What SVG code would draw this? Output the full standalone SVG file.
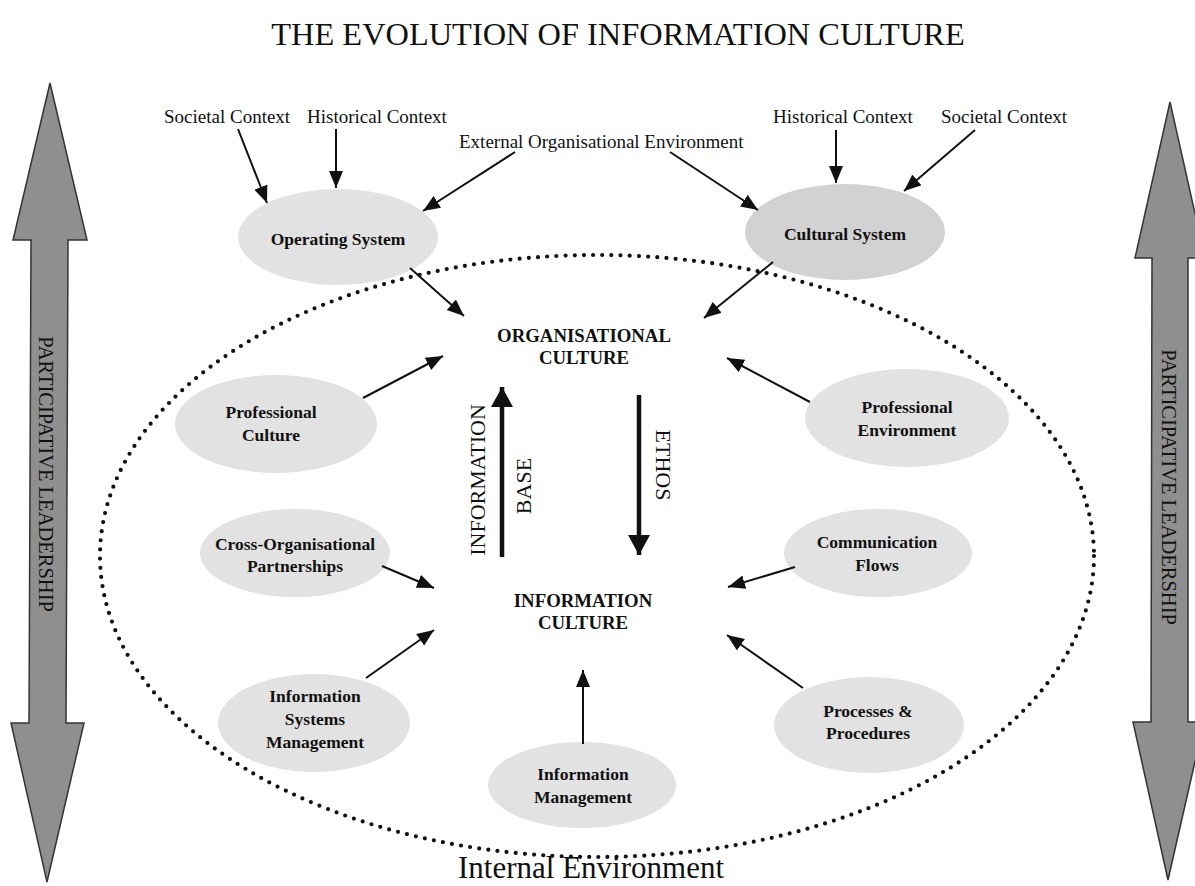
<svg xmlns="http://www.w3.org/2000/svg" width="1195" height="886" viewBox="0 0 1195 886">
<style>
.t{font-family:"Liberation Serif","Times New Roman",serif;fill:#111}
.lbl{font-size:19px}
.node{font-size:17.5px;font-weight:bold;text-anchor:middle}
.cap{font-size:18.8px;font-weight:bold;text-anchor:middle}
.ell{fill:#e2e2e2}
.conn{stroke:#111;stroke-width:2;fill:none;marker-end:url(#ah)}
.big{fill:#8f8f8f;stroke:#333;stroke-width:1.5}
</style>
<defs>
<marker id="ah" markerUnits="userSpaceOnUse" markerWidth="20" markerHeight="16" refX="17" refY="7" orient="auto">
<path d="M0,0 L17,7 L0,14 Z" fill="#111"/>
</marker>
<marker id="ahb" markerUnits="userSpaceOnUse" markerWidth="24" markerHeight="24" refX="20" refY="11" orient="auto">
<path d="M0,0 L20,11 L0,22 Z" fill="#111"/>
</marker>
</defs>
<rect width="1195" height="886" fill="#fff"/>
<text class="t" x="618" y="45" font-size="32.4" text-anchor="middle">THE EVOLUTION OF INFORMATION CULTURE</text>

<g id="leadership-left">
<path class="big" d="M50,83 L87,240 L68,240 L66,723 L84,723 L47,882 L11,723 L29,723 L31,240 L13,240 Z"/>
<text class="t" x="0" y="0" font-size="20.5" text-anchor="middle" transform="translate(39,474) rotate(90)">PARTICIPATIVE LEADERSHIP</text>
</g>
<g id="leadership-right">
<path class="big" d="M1170,102 L1205,258 L1188,258 L1188,722 L1204,722 L1168,880 L1133,722 L1151,722 L1152,258 L1135,258 Z"/>
<text class="t" x="0" y="0" font-size="20.5" text-anchor="middle" transform="translate(1162,487) rotate(90)">PARTICIPATIVE LEADERSHIP</text>
</g>

<g id="internal-environment">
<ellipse cx="597" cy="556" rx="497" ry="301" fill="none" stroke="#111" stroke-width="4.2" stroke-linecap="round" stroke-dasharray="0 9.2"/>
<text class="t" x="591" y="878" font-size="31" text-anchor="middle">Internal Environment</text>
</g>

<g id="context-labels">
<text class="t lbl" x="164" y="123">Societal Context</text>
<text class="t lbl" x="307" y="123">Historical Context</text>
<text class="t lbl" x="459" y="148">External Organisational Environment</text>
<text class="t lbl" x="773" y="123">Historical Context</text>
<text class="t lbl" x="941" y="123">Societal Context</text>
</g>

<g id="operating-system">
<ellipse class="ell" cx="338" cy="237" rx="100" ry="48"/>
<text class="t node" x="338" y="245">Operating System</text>
</g>
<g id="cultural-system">
<ellipse class="ell" cx="845" cy="232" rx="100" ry="48" style="fill:#d2d2d2"/>
<text class="t node" x="845" y="240">Cultural System</text>
</g>
<g id="organisational-culture">
<text class="t cap" x="584" y="342">ORGANISATIONAL</text>
<text class="t cap" x="584" y="364">CULTURE</text>
</g>
<g id="information-culture">
<text class="t cap" x="583" y="607">INFORMATION</text>
<text class="t cap" x="583" y="629">CULTURE</text>
</g>
<g id="professional-culture">
<ellipse class="ell" cx="276" cy="424" rx="101" ry="49"/>
<text class="t node" x="271" y="418">Professional</text>
<text class="t node" x="271" y="441">Culture</text>
</g>
<g id="cross-organisational-partnerships">
<ellipse class="ell" cx="295" cy="553" rx="95" ry="44"/>
<text class="t node" x="295" y="550">Cross-Organisational</text>
<text class="t node" x="295" y="572">Partnerships</text>
</g>
<g id="information-systems-management">
<ellipse class="ell" cx="314" cy="723" rx="96" ry="49"/>
<text class="t node" x="315" y="702">Information</text>
<text class="t node" x="315" y="725">Systems</text>
<text class="t node" x="315" y="748">Management</text>
</g>
<g id="professional-environment">
<ellipse class="ell" cx="907" cy="418" rx="102" ry="49"/>
<text class="t node" x="907" y="413">Professional</text>
<text class="t node" x="907" y="436">Environment</text>
</g>
<g id="communication-flows">
<ellipse class="ell" cx="878" cy="553" rx="94" ry="44"/>
<text class="t node" x="877" y="548">Communication</text>
<text class="t node" x="877" y="571">Flows</text>
</g>
<g id="processes-procedures">
<ellipse class="ell" cx="869" cy="725" rx="95" ry="48"/>
<text class="t node" x="868" y="717">Processes &amp;</text>
<text class="t node" x="868" y="739">Procedures</text>
</g>
<g id="information-management">
<ellipse class="ell" cx="582" cy="785" rx="94" ry="43"/>
<text class="t node" x="583" y="780">Information</text>
<text class="t node" x="583" y="803">Management</text>
</g>

<g id="flow-labels">
<text class="t" font-size="22" text-anchor="middle" transform="translate(485,480) rotate(-90)">INFORMATION</text>
<text class="t" font-size="22" text-anchor="middle" transform="translate(531,486) rotate(-90)">BASE</text>
<text class="t" font-size="22" text-anchor="middle" transform="translate(656,465) rotate(90)">ETHOS</text>
</g>

<g id="connectors">
<line class="conn" x1="238" y1="129" x2="267" y2="203"/>
<line class="conn" x1="336" y1="129" x2="336" y2="188"/>
<line class="conn" x1="515" y1="152" x2="423" y2="211"/>
<line class="conn" x1="670" y1="152" x2="758" y2="210"/>
<line class="conn" x1="836" y1="130" x2="836" y2="183"/>
<line class="conn" x1="975" y1="130" x2="904" y2="191"/>
<line class="conn" x1="410" y1="268" x2="464" y2="316"/>
<line class="conn" x1="773" y1="262" x2="704" y2="318"/>
<line class="conn" x1="363" y1="398" x2="443" y2="356"/>
<line class="conn" x1="382" y1="566" x2="434" y2="588"/>
<line class="conn" x1="366" y1="678" x2="434" y2="630"/>
<line class="conn" x1="810" y1="402" x2="727" y2="358"/>
<line class="conn" x1="795" y1="567" x2="728" y2="587"/>
<line class="conn" x1="803" y1="688" x2="727" y2="635"/>
<line class="conn" x1="583" y1="744" x2="583" y2="670"/>
<line x1="502" y1="557" x2="502" y2="387" stroke="#111" stroke-width="4.5" marker-end="url(#ahb)"/>
<line x1="639" y1="395" x2="639" y2="555" stroke="#111" stroke-width="4.5" marker-end="url(#ahb)"/>
</g>
</svg>
